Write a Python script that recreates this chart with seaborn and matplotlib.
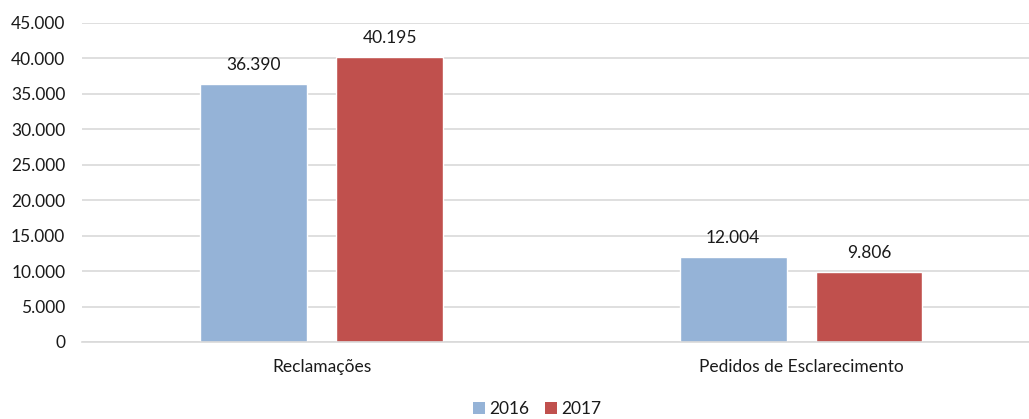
import matplotlib
matplotlib.use("Agg")
import matplotlib.pyplot as plt
from matplotlib.ticker import FuncFormatter, MultipleLocator
from matplotlib.patches import Patch
import pandas as pd
import seaborn as sns

categories = ["Reclamações", "Pedidos de Esclarecimento"]
years = ["2016", "2017"]
values_2016 = [36390, 12004]
values_2017 = [40195, 9806]
colors = ["#95B3D7", "#C0504D"]

df = pd.DataFrame({
    "categoria": categories * 2,
    "ano": [years[0]] * 2 + [years[1]] * 2,
    "valor": values_2016 + values_2017,
})

sns.set_theme(style="white")
plt.rcParams["font.family"] = ["Lato", "DejaVu Sans"]
plt.rcParams["text.color"] = "#1a1a1a"

fs = 12.5

fig = plt.figure(figsize=(10.29, 4.19), dpi=100)
ax = fig.add_axes([82 / 1029, 1 - 342 / 419, 1 - 82 / 1029, (342 - 23) / 419])

sns.barplot(data=df, x="categoria", y="valor", hue="ano", palette=colors,
            width=0.567, gap=0.214, saturation=1, ax=ax, legend=False)

def thousands(v, pos=None):
    return f"{v:,.0f}".replace(",", ".")

ax.set_ylim(0, 45000)
ax.set_xlim(-0.5, 1.4755)
ax.yaxis.set_major_locator(MultipleLocator(5000))
ax.yaxis.set_major_formatter(FuncFormatter(thousands))
ax.grid(axis="y", color="#D9D9D9", linewidth=1.2)
ax.set_axisbelow(True)
for side in ["left", "right", "top"]:
    ax.spines[side].set_visible(False)
ax.spines["bottom"].set_color("#D9D9D9")
ax.spines["bottom"].set_linewidth(1.2)
ax.tick_params(axis="both", length=0, labelsize=fs, colors="#1a1a1a")
ax.tick_params(axis="y", pad=12)
ax.tick_params(axis="x", pad=12)
ax.set_xlabel("")
ax.set_ylabel("")

for container in ax.containers:
    ax.bar_label(container, labels=[thousands(b.get_height()) for b in container],
                 padding=8, fontsize=fs, color="#1a1a1a")

handles = [Patch(facecolor=c, edgecolor="none") for c in colors]
fig.legend(handles, years, loc="center", bbox_to_anchor=(537 / 1029, 1 - 409 / 419),
           ncol=2, frameon=False, fontsize=fs, handlelength=0.7, handleheight=0.7,
           handletextpad=0.25, columnspacing=0.9)

fig.savefig("out.png", dpi=100)
